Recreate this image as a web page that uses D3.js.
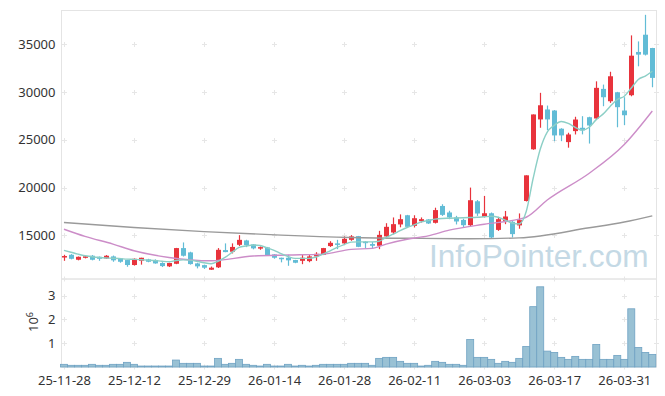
<!DOCTYPE html>
<html lang="ko">
  <head>
    <meta charset="utf-8" />
    <title>Candlestick</title>
    <script src="https://d3js.org/d3.v7.min.js"></script>
    <style>
      body { margin: 0; background: #fff; }
      text { font-family: "Noto Sans", sans-serif; }
    </style>
  </head>
  <body>
    <div id="chart"></div>
    <script>
      // OHLC per trading day (index 0 = 25-11-28)
      const opens = [12750,12980,12460,12660,12880,12770,12600,12810,12600,12430,
        11910,12350,12500,12430,12120,11770,12040,13680,13230,12080,
        11900,11420,11670,13470,13300,14020,14480,14060,13700,13750,
        13020,12670,12670,12430,12350,12320,12810,12980,13890,14170,
        14170,14540,14930,14350,14100,13920,14900,15310,16150,17110,
        16000,16490,16670,16320,18080,17400,16880,16620,16070,18570,
        16940,17320,15580,16520,16420,16050,18600,24000,27120,28160,
        28050,26150,24750,25900,26250,27350,27220,30310,29020,29960,
        28050,29650,34170,35970,34580];
      const highs = [12980,13050,12800,12850,12950,12800,12950,12900,12650,12450,
        12600,12670,12560,12500,12200,12150,13700,14270,13300,12150,
        11950,11750,13680,14170,14170,15030,14550,14100,13850,13800,
        13050,12680,12980,12450,13020,13000,13250,13700,14400,14540,
        14900,15040,14950,14400,14330,15480,16280,16880,17200,17150,
        17110,16880,16700,17900,18260,17580,17050,16750,20000,18700,
        19130,17400,16940,17560,16500,17300,21280,27640,29900,28570,
        28100,26200,25730,27400,27460,27400,31100,30760,32100,30000,
        29440,35900,35270,38050,34600];
      const lows = [12350,12500,12400,12600,12400,12350,12550,12250,12150,11730,
        11850,11950,12200,12050,11700,11700,12000,12800,11950,11560,
        11500,11400,11600,13250,13120,13900,13780,13550,13500,12900,
        12570,12190,11830,12100,12000,12200,12350,12950,13800,13570,
        13990,14440,13780,13650,13650,13570,14700,15130,15850,15850,
        15830,16350,16200,16250,17040,16700,16150,15800,15940,17040,
        16880,14700,15480,16180,14790,15700,18550,23950,26250,26000,
        24850,24850,24170,25550,25560,24600,27100,28500,28850,26300,
        26520,29540,32670,33800,30480];
      const closes = [12850,12560,12770,12820,12460,12560,12880,12400,12250,11910,
        12560,12670,12250,12080,11800,12120,13680,12880,12010,11770,
        11630,11630,13500,13260,13800,14540,13990,13650,13780,12950,
        12670,12560,12400,12150,12670,12810,13080,13680,14230,14020,
        14650,14900,13810,14200,13920,15060,15900,16180,16700,15900,
        16800,16700,16250,17650,17150,16880,16460,16070,18680,17290,
        17320,14790,16700,16980,15140,16600,21280,27640,28600,27120,
        25450,25450,25550,27110,25970,26490,30420,29440,31630,28400,
        27560,33780,33890,33890,31460];
      const volumes = [92e3,50e3,50e3,50e3,92e3,50e3,50e3,92e3,92e3,176e3,
        92e3,20e3,20e3,20e3,20e3,20e3,273e3,134e3,134e3,134e3,
        20e3,20e3,344e3,92e3,134e3,302e3,92e3,50e3,20e3,92e3,
        20e3,20e3,92e3,20e3,50e3,20e3,50e3,92e3,92e3,92e3,
        92e3,134e3,134e3,134e3,50e3,344e3,386e3,386e3,218e3,134e3,
        134e3,20e3,50e3,218e3,176e3,92e3,92e3,50e3,1140e3,386e3,
        386e3,302e3,134e3,218e3,176e3,344e3,848e3,2530e3,3370e3,651e3,
        596e3,386e3,302e3,428e3,302e3,302e3,932e3,302e3,302e3,470e3,
        302e3,2440e3,806e3,596e3,512e3];

      // moving averages
      const ma5 = [13440,13250,13050,12880,12780,12700,12650,12620,12580,12530,
        12500,12460,12420,12380,12300,12250,12380,12450,12420,12300,
        12150,12050,12300,12700,13230,13750,13900,14000,13950,13700,
        13450,13100,12800,12600,12600,12600,12750,13050,13400,13750,
        14050,14300,14330,14330,14330,14400,14790,15135,15500,15830,
        16100,16420,16550,16700,16770,16800,16830,16850,16870,16900,
        16950,17000,16900,16600,16300,16200,17500,21000,24000,25800,
        26500,26900,26700,26300,26000,26300,27100,27700,28500,29200,
        29550,30400,31300,31650,32150];
      const ma20Idx = [0,3,7,10,15,21,27,32,37,41,44,46,49,52,55,60,65,66,69,75,80,84];
      const ma20Val = [15650,14900,14100,13400,12700,12350,12850,12950,13050,13550,13650,
        14100,14600,14950,15550,16170,16700,16900,18700,21500,24500,28000];
      const ma60Idx = [0,10,20,31,41,51,58,65,75,80,84];
      const ma60Val = [16350,15830,15400,15030,14790,14690,14650,14750,15800,16400,17050];

      const tickLabels = ["25-11-28","25-12-12","25-12-29","26-01-14","26-01-28",
        "26-02-11","26-03-03","26-03-17","26-03-31"];
      const priceTicks = [15000,20000,25000,30000,35000];
      const volTicks = [1e6,2e6,3e6];

      const W = 665, H = 396;
      const left = 61.5, right = 656.5, pTop = 10.5, pBot = 279, vBot = 367;
      const upColor = "#e8333c", downColor = "#62bcd6";

      const svg = d3.select("#chart").append("svg")
        .attr("width", W).attr("height", H);

      const x = d3.scaleLinear().domain([-0.35, 84.6]).range([left, right]);
      const y = d3.scaleLinear().domain([10450, 38500]).range([pBot, pTop]);
      const yv = d3.scaleLinear().domain([0, 3.7e6]).range([vBot - 0.5, pBot]);

      // watermark
      svg.append("text")
        .attr("x", 429).attr("y", 267)
        .style("font-family", "'Liberation Sans', Arial, sans-serif")
        .style("font-size", "31.6px")
        .attr("fill", "#c4d9e5")
        .text("InfoPointer.com");

      // frame
      const frame = svg.append("g").attr("stroke", "#e4e4e4").attr("fill", "none");
      frame.append("rect").attr("x", left).attr("y", pTop).attr("width", right - left).attr("height", pBot - pTop);
      frame.append("rect").attr("x", left).attr("y", pBot).attr("width", right - left).attr("height", vBot - pBot);

      // grid crosses
      const tickIdx = tickLabels.map((d, i) => i * 10);
      const cross = svg.append("g").attr("stroke", "#e6e6e6").attr("stroke-width", 1);
      function plus(cx, cy) {
        cross.append("line").attr("x1", cx - 2.5).attr("x2", cx + 2.5).attr("y1", cy).attr("y2", cy);
        cross.append("line").attr("x1", cx).attr("x2", cx).attr("y1", cy - 2.5).attr("y2", cy + 2.5);
      }
      tickIdx.forEach((i) => {
        const cx = Math.round(x(i)) + 0.5;
        priceTicks.forEach((p) => plus(cx, Math.round(y(p)) + 0.5));
        volTicks.forEach((v) => plus(cx, Math.round(yv(v)) + 0.5));
        plus(cx, pBot); plus(cx, vBot);
      });
      priceTicks.forEach((p) => plus(right, Math.round(y(p)) + 0.5));
      volTicks.forEach((v) => plus(right, Math.round(yv(v)) + 0.5));

      // axes labels
      const yAxis = d3.axisLeft(y).tickValues(priceTicks).tickSize(0).tickPadding(6)
        .tickFormat(d3.format("d"));
      const gy = svg.append("g").attr("transform", `translate(${left},0)`).call(yAxis);
      const yvAxis = d3.axisLeft(yv).tickValues(volTicks).tickSize(0).tickPadding(6)
        .tickFormat((d) => d / 1e6);
      const gyv = svg.append("g").attr("transform", `translate(${left},0)`).call(yvAxis);
      const xAxis = d3.axisBottom(x).tickValues(tickIdx).tickSize(0).tickPadding(6)
        .tickFormat((d, i) => tickLabels[i]);
      const gx = svg.append("g").attr("transform", `translate(0,${vBot})`).call(xAxis);
      [gy, gyv, gx].forEach((g) => {
        g.select(".domain").remove();
        g.selectAll("text").attr("fill", "#333").style("font-size", "13px")
          .style("font-family", "'Noto Sans', sans-serif");
      });
      gx.selectAll("text").attr("dy", "0.9em");

      const ylab = svg.append("text")
        .attr("transform", "translate(38,322) rotate(-90)")
        .attr("text-anchor", "middle").attr("fill", "#333").style("font-size", "13px");
      ylab.append("tspan").text("10");
      ylab.append("tspan").attr("dy", -5).style("font-size", "9px").text("6");

      // volume
      svg.append("g").selectAll("rect").data(volumes).join("rect")
        .attr("x", (d, i) => x(i) - 3.5)
        .attr("width", 7)
        .attr("y", (d) => yv(d))
        .attr("height", (d) => vBot - yv(d))
        .attr("fill", "#99c1d4")
        .attr("stroke", "#6fa2c3")
        .attr("stroke-width", 0.8);

      // candles
      const candles = svg.append("g").selectAll("g").data(closes).join("g");
      candles.append("line")
        .attr("x1", (d, i) => Math.round(x(i)) + 0.5)
        .attr("x2", (d, i) => Math.round(x(i)) + 0.5)
        .attr("y1", (d, i) => y(highs[i]))
        .attr("y2", (d, i) => y(lows[i]))
        .attr("stroke", (d, i) => (d >= opens[i] ? upColor : downColor))
        .attr("stroke-width", 1.2);
      candles.append("rect")
        .attr("x", (d, i) => Math.round(x(i)) - 2)
        .attr("width", 5)
        .attr("y", (d, i) => y(Math.max(d, opens[i])))
        .attr("height", (d, i) => Math.max(1.5, Math.abs(y(d) - y(opens[i]))))
        .attr("fill", (d, i) => (d >= opens[i] ? upColor : downColor));

      // moving averages
      const line = d3.line().curve(d3.curveMonotoneX);
      svg.append("path")
        .attr("d", line(ma60Idx.map((d, i) => [x(d), y(ma60Val[i])])))
        .attr("fill", "none").attr("stroke", "#9a9a9a").attr("stroke-width", 1.4);
      svg.append("path")
        .attr("d", line(ma20Idx.map((d, i) => [x(d), y(ma20Val[i])])))
        .attr("fill", "none").attr("stroke", "#cc8dc8").attr("stroke-width", 1.4);
      svg.append("path")
        .attr("d", line(ma5.map((d, i) => [x(i), y(d)])))
        .attr("fill", "none").attr("stroke", "#8ccfc6").attr("stroke-width", 1.4);
    </script>
  </body>
</html>
